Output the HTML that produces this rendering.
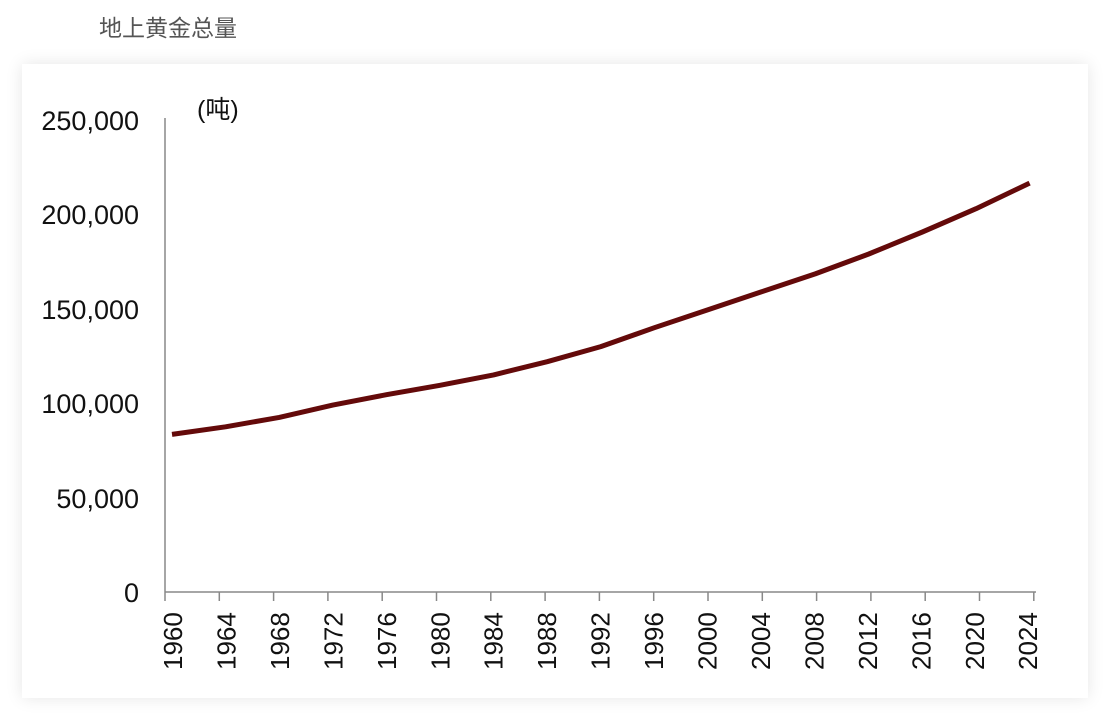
<!DOCTYPE html>
<html><head><meta charset="utf-8"><style>
body{margin:0;width:1108px;height:717px;background:#fff;overflow:hidden;font-family:"Liberation Sans","Noto Sans CJK SC",sans-serif}
.t{position:absolute;left:99px;top:9px;font-size:23px;color:#555}
.card{position:absolute;left:22px;top:64px;width:1066px;height:634px;background:#fff;box-shadow:0 0 16px rgba(0,0,0,0.10)}
svg{position:absolute;left:0;top:0}
</style></head><body>
<div class="t">地上黄金总量</div>
<div class="card"></div>
<svg width="1108" height="717" font-family="Liberation Sans, Noto Sans CJK SC, sans-serif">
<g stroke="#888" stroke-width="1.5" fill="none">
<line x1="165" y1="118" x2="165" y2="592"/>
<line x1="165" y1="592" x2="1036" y2="592"/>
</g>
<g id="ticks" stroke="#888" stroke-width="1.5"></g>
<g font-size="27" fill="#111" text-anchor="end">
<text x="139" y="130">250,000</text>
<text x="139" y="224">200,000</text>
<text x="139" y="319">150,000</text>
<text x="139" y="413">100,000</text>
<text x="139" y="508">50,000</text>
<text x="139" y="602">0</text>
</g>
<text x="197" y="118" font-size="25" fill="#111">(吨)</text>
<g id="xl" font-size="26" fill="#111"></g>
<polyline fill="none" stroke="#640a0a" stroke-width="5" stroke-linejoin="round" points=""/>
</svg>
<script>
var t=document.getElementById('ticks'),l=document.getElementById('xl'),s='';
for(var i=0;i<=16;i++){var x=165+i*54.3;s+='<line x1="'+x+'" y1="592" x2="'+x+'" y2="601"/>';}
t.innerHTML=s;s='';
for(var i=0;i<=16;i++){var x=173+i*53.45+9;s+='<text transform="translate('+x+',670) rotate(-90)">'+(1960+4*i)+'</text>';}
l.innerHTML=s;
var p=document.querySelector('polyline');
var pts=[];var d=[[1960,83500],[1964,87500],[1968,92500],[1972,99000],[1976,104500],[1980,109500],[1984,115000],[1988,122000],[1992,130000],[1996,140000],[2000,149500],[2004,159000],[2008,168500],[2012,179000],[2016,190700],[2020,203000],[2024,216600]];
for(var k=0;k<d.length;k++)pts.push((172+(d[k][0]-1960)*13.4).toFixed(1)+','+(592-d[k][1]*0.001888).toFixed(1));
p.setAttribute('points',pts.join(' '));
</script>
</body></html>
